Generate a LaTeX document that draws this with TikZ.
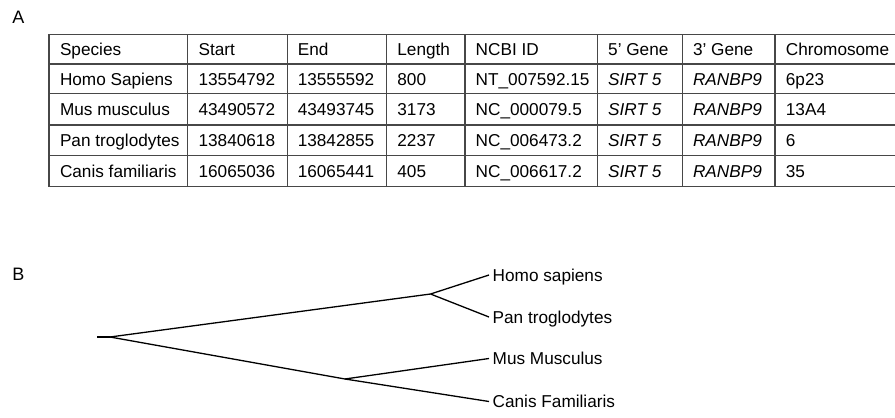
\documentclass[tikz,border=0pt]{standalone}
\usepackage{fontspec}
\setmainfont{Liberation Sans}
\begin{document}
\begin{tikzpicture}[x=1pt,y=-1pt,
  font=\fontsize{17.2}{20}\selectfont,
  grid/.style={draw=black!72, line width=1.05pt},
  cell/.style={anchor=base west, inner sep=0pt},
  panel/.style={anchor=base west, inner sep=0pt, font=\fontsize{18}{21}\selectfont},
  leaf/.style={anchor=west, inner xsep=3.5pt, inner ysep=0pt, text height=12.3pt, text depth=0pt},
  branch/.style={draw=black, line width=1.3pt}]
\useasboundingbox (0,0) rectangle (895,418);

% panel letters
\node[panel] (lblA) at (12.3,23.5) {A};
\node[panel] (lblB) at (12.3,280.9) {B};

% ---- table grid ----
\foreach \y in {34.3,64,93.5,125,155.7,186.7}
  \draw[grid] (49,\y) -- (895,\y);
\foreach \x in {49,187.7,287.3,386.7,465,597.3,682.7,775}
  \draw[grid] (\x,34.3) -- (\x,186.7);

% ---- table cells (baseline of each row) ----
\foreach \b/\sp/\st/\en/\len/\id/\g/\h/\chr [count=\r] in {
   55.4/Species/Start/End/Length/NCBI ID/5’ Gene/3’ Gene/Chromosome,
   85.2/Homo Sapiens/13554792/13555592/800/NT\_007592.15/\textit{SIRT 5}/\textit{RANBP9}/6p23,
   115.4/Mus musculus/43490572/43493745/3173/NC\_000079.5/\textit{SIRT 5}/\textit{RANBP9}/13A4,
   146.5/Pan troglodytes/13840618/13842855/2237/NC\_006473.2/\textit{SIRT 5}/\textit{RANBP9}/6,
   177.2/Canis familiaris/16065036/16065441/405/NC\_006617.2/\textit{SIRT 5}/\textit{RANBP9}/35}
{
  \node[cell] (sp\r)  at (59.8,\b)  {\sp};
  \node[cell] (st\r)  at (198.4,\b) {\st};
  \node[cell] (en\r)  at (297.6,\b) {\en};
  \node[cell] (len\r) at (397.2,\b) {\len};
  \node[cell] (id\r)  at (475.5,\b) {\id};
  \node[cell] (g\r)   at (608,\b)   {\g};
  \node[cell] (h\r)   at (692.8,\b) {\h};
  \node[cell] (chr\r) at (785.7,\b) {\chr};
}

% ---- tree ----
\coordinate (stub) at (97,337);
\coordinate (root) at (110,337);
\coordinate (n1) at (430.5,294);
\coordinate (n2) at (345,379);

\node[leaf] (hs) at (489,275) {Homo sapiens};
\node[leaf] (pt) at (489,317) {Pan troglodytes};
\node[leaf] (mm) at (489,358.5) {Mus Musculus};
\node[leaf] (cf) at (489,401.5) {Canis Familiaris};

\draw[branch] (stub) -- (root);
\draw[branch] (root) -- (n1);
\draw[branch] (root) -- (n2);
\draw[branch] (n1) -- (hs.west);
\draw[branch] (n1) -- (pt.west);
\draw[branch] (n2) -- (mm.west);
\draw[branch] (n2) -- (cf.west);
\end{tikzpicture}
\end{document}
